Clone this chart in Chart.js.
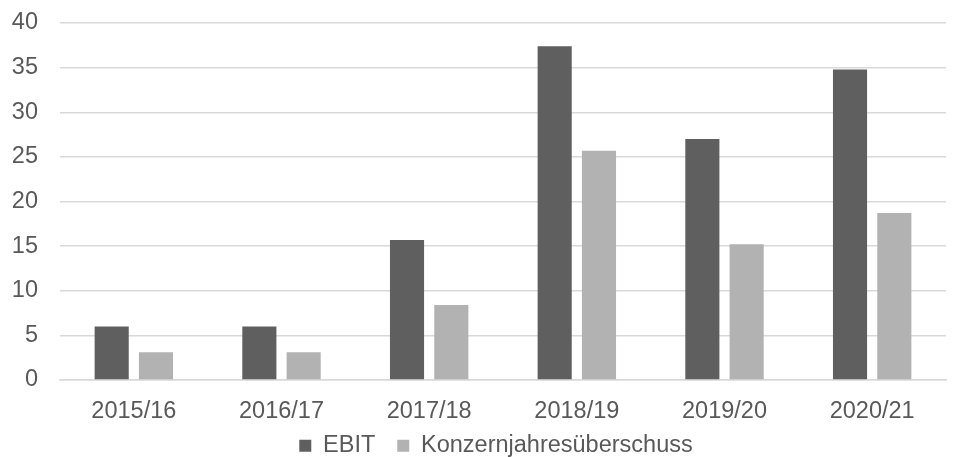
<!DOCTYPE html>
<html>
<head>
<meta charset="utf-8">
<script src="https://cdn.jsdelivr.net/npm/chart.js@4"></script>
<style>
  html, body { margin: 0; padding: 0; background: #fff; }
  #wrap { width: 962px; height: 457px; }
</style>
</head>
<body>
<div id="wrap"><canvas id="chart"></canvas></div>
<script>
const categories = ["2015/16", "2016/17", "2017/18", "2018/19", "2019/20", "2020/21"]
const ebit = [6.0, 6.0, 15.7, 37.4, 27.0, 34.8]
const konzernjahresueberschuss = [3.1, 3.1, 8.4, 25.7, 15.2, 18.7]
const yTicks = [0, 5, 10, 15, 20, 25, 30, 35, 40]

Chart.defaults.font.family = "'Liberation Sans', Arial, sans-serif"
Chart.defaults.color = "#595959"

// pull the legend up a little, closer to the category labels
// (only the top edge, the legend clips to its own box)
const legendNudge = {
  id: "legendNudge",
  afterLayout(chart) {
    const lg = chart.legend
    if (!lg) return
    lg.top -= 13
    lg.left -= 7
    lg.right -= 7
  }
}

const ctx = document.getElementById("chart").getContext("2d")

new Chart(ctx, {
  type: "bar",
  data: {
    labels: categories,
    datasets: [
      {
        label: "EBIT",
        data: ebit,
        backgroundColor: "#5f5f5f",
        categoryPercentage: 0.6,
        barPercentage: 0.77
      },
      {
        label: "Konzernjahresüberschuss",
        data: konzernjahresueberschuss,
        backgroundColor: "#b2b2b2",
        categoryPercentage: 0.6,
        barPercentage: 0.77
      }
    ]
  },
  plugins: [legendNudge],
  options: {
    responsive: true,
    maintainAspectRatio: false,
    animation: false,
    layout: {
      padding: { top: 23, right: 16, bottom: 0, left: 0 }
    },
    plugins: {
      legend: {
        position: "bottom",
        fullSize: false,
        maxHeight: 32,
        labels: {
          boxWidth: 12,
          boxHeight: 12,
          padding: 22,
          font: { size: 23.5 },
          color: "#595959"
        }
      },
      tooltip: { enabled: false }
    },
    scales: {
      x: {
        grid: { display: false },
        border: { color: "#d9d9d9", width: 1.5 },
        ticks: {
          font: { size: 23.5 },
          padding: 9,
          maxRotation: 0
        },
        afterFit(scale) { scale.height = 45 }
      },
      y: {
        min: 0,
        max: 40,
        afterBuildTicks(scale) {
          scale.ticks = yTicks.map(v => ({ value: v }))
        },
        grid: {
          color: "#d9d9d9",
          lineWidth: 1.5,
          drawTicks: false
        },
        border: { display: false },
        ticks: {
          font: { size: 23.5 },
          padding: 22
        },
        afterFit(scale) {
          scale.width = 60
          scale.paddingTop = 0
          scale.paddingBottom = 0
        }
      }
    }
  }
})
</script>
</body>
</html>
